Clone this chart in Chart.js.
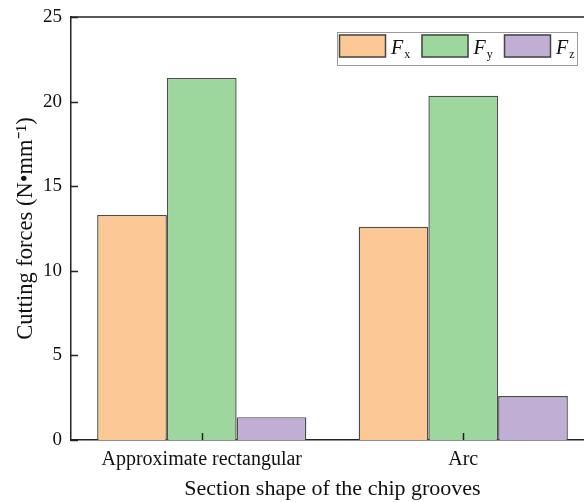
<!DOCTYPE html>
<html><head><meta charset="utf-8">
<script src="https://cdn.jsdelivr.net/npm/chart.js@4"></script>
<style>
html,body{margin:0;padding:0;background:#fff;overflow:hidden;width:584px;height:502px}
#wrap{width:600px;height:502px}
</style></head>
<body><div id="wrap"><canvas id="c" width="600" height="502"></canvas></div>
<script>
// Cutting forces per chip-groove section shape
const categories = ['Approximate rectangular', 'Arc'];
const seriesSymbols = ['F', 'F', 'F'];
const seriesSubscripts = ['x', 'y', 'z'];
const fxValues = [13.3, 12.6];
const fyValues = [21.4, 20.35];
const fzValues = [1.35, 2.6];
const yTicks = [0, 5, 10, 15, 20, 25];

const fillColors = ['#fcc896', '#9dd79d', '#c0aed5'];
const edgeColor = '#4d4d4d';
const axisColor = '#222222';
const serif = '"Liberation Serif", "Times New Roman", serif';

// Inward ticks, top frame line and a boxed legend with subscripted labels
const decorations = {
  id: 'decorations',
  afterDraw(chart) {
    const ctx = chart.ctx;
    const area = chart.chartArea;
    const xs = chart.scales.x, ys = chart.scales.y;
    ctx.save();
    ctx.strokeStyle = axisColor;
    ctx.lineWidth = 1.5;
    ctx.beginPath();
    ctx.moveTo(area.left, area.top);
    ctx.lineTo(area.right, area.top);
    ctx.lineTo(area.right, area.bottom);
    ctx.stroke();
    ctx.beginPath();
    yTicks.forEach(v => {
      const y = Math.round(ys.getPixelForValue(v)) + 0.5;
      ctx.moveTo(area.left, y);
      ctx.lineTo(area.left + 7, y);
    });
    categories.forEach((c, i) => {
      const x = Math.round(xs.getPixelForValue(i)) + 0.5;
      ctx.moveTo(x, area.bottom);
      ctx.lineTo(x, area.bottom - 7);
    });
    ctx.stroke();

    // legend
    const boxRight = area.right - 17, boxTop = area.top + 15;
    const boxLeft = boxRight - 240, boxH = 33;
    ctx.strokeStyle = '#9a9a9a';
    ctx.lineWidth = 1;
    ctx.strokeRect(boxLeft + 0.5, boxTop + 0.5, boxRight - boxLeft, boxH);
    const itemStep = 82.5;
    chart.data.datasets.forEach((ds, i) => {
      const sx = boxLeft + 2 + i * itemStep;
      const sy = boxTop + 2.5;
      ctx.fillStyle = ds.backgroundColor;
      ctx.fillRect(sx, sy, 47, 23);
      ctx.strokeStyle = '#444';
      ctx.lineWidth = 1.5;
      ctx.strokeRect(sx + 0.5, sy + 0.5, 46, 22);
      ctx.fillStyle = '#111';
      ctx.textBaseline = 'alphabetic';
      ctx.textAlign = 'left';
      ctx.font = 'italic 20px ' + serif;
      const tx = sx + 52;
      const ty = sy + 19;
      ctx.fillText(seriesSymbols[i], tx, ty);
      const w = ctx.measureText(seriesSymbols[i]).width;
      ctx.font = '12px ' + serif;
      ctx.fillText(seriesSubscripts[i], tx + w + 1, ty + 4);
    });
    ctx.restore();
  }
};

const chart = new Chart(document.getElementById('c'), {
  type: 'bar',
  data: {
    labels: categories,
    datasets: [
      { label: 'Fx', data: fxValues, backgroundColor: fillColors[0] },
      { label: 'Fy', data: fyValues, backgroundColor: fillColors[1] },
      { label: 'Fz', data: fzValues, backgroundColor: fillColors[2] }
    ].map(d => Object.assign(d, {
      borderColor: edgeColor, borderWidth: 1.4,
      categoryPercentage: 0.8, barPercentage: 1.0
    }))
  },
  options: {
    responsive: false,
    animation: false,
    devicePixelRatio: 1,
    layout: { padding: { top: 17, right: 6, left: 0, bottom: 0 } },
    plugins: { legend: { display: false }, tooltip: { enabled: false } },
    scales: {
      x: {
        grid: { display: false, drawTicks: false },
        border: { display: true, color: axisColor, width: 1.5 },
        ticks: { color: '#111', font: { family: serif, size: 20 }, padding: 8 },
        title: {
          display: true, text: 'Section shape of the chip grooves',
          color: '#111', font: { family: serif, size: 22 }, padding: { top: 0, bottom: 0 }
        },
        afterFit(s) { s.height = 62; s.paddingRight = 0; s.paddingLeft = 0; }
      },
      y: {
        min: 0, max: 25,
        grid: { display: false, drawTicks: false },
        border: { display: true, color: axisColor, width: 1.5 },
        ticks: {
          color: '#111', font: { family: serif, size: 19 }, padding: 9,
          stepSize: 5,
          callback: v => yTicks.includes(v) ? String(v) : ''
        },
        title: {
          display: true, text: 'Cutting forces (N•mm⁻¹)',
          color: '#111', font: { family: serif, size: 22.5 }, padding: { top: 13, bottom: 0 }
        },
        afterFit(s) { s.width = 71; s.paddingTop = 0; s.paddingBottom = 0; }
      }
    }
  },
  plugins: [decorations]
});
</script>
</body></html>
